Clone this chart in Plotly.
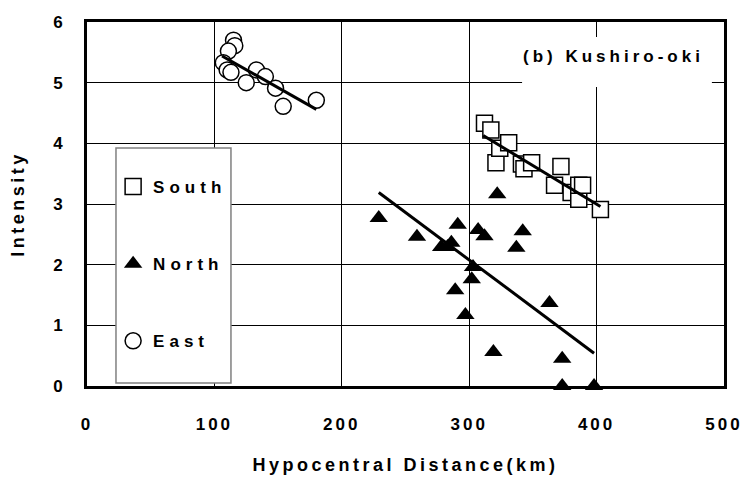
import plotly.graph_objects as go

# ---- data ----
east_x = [115, 116, 111, 107, 110, 113, 133, 140, 125, 148, 154, 180]
east_y = [5.70, 5.61, 5.52, 5.33, 5.21, 5.17, 5.21, 5.10, 5.00, 4.91, 4.61, 4.71]

south_x = [312, 317, 321, 324, 331, 341, 343, 349, 372, 367, 380, 386, 386, 389, 403]
south_y = [4.33, 4.22, 3.68, 3.92, 4.01, 3.66, 3.58, 3.68, 3.62, 3.31, 3.19, 3.08, 3.31, 3.31, 2.91]

north_x = [229, 259, 278, 283, 286, 291, 307, 312, 322, 342, 337, 303, 302, 289, 297, 363, 319, 373, 373, 398]
north_y = [2.77, 2.46, 2.29, 2.29, 2.36, 2.66, 2.57, 2.47, 3.16, 2.55, 2.28, 1.96, 1.76, 1.58, 1.17, 1.37, 0.56, 0.45, 0.0, 0.0]

# regression lines (end points)
east_fit_x = [106, 180]
east_fit_y = [5.44, 4.56]
south_fit_x = [311, 403]
south_fit_y = [4.13, 2.96]
north_fit_x = [229, 398]
north_fit_y = [3.19, 0.54]

x_ticks = [0, 100, 200, 300, 400, 500]
y_ticks = [0, 1, 2, 3, 4, 5, 6]

FONT = "Liberation Sans, Arial, sans-serif"


def spaced(t, px):
    return f'<span style="letter-spacing:{px}px">{t}</span>'


fig = go.Figure()

fig.add_trace(go.Scatter(
    x=south_x, y=south_y, mode="markers", name=spaced("South", 5),
    legendgroup="s",
    marker=dict(symbol="square", size=16, color="white",
                line=dict(color="black", width=1.5)),
    cliponaxis=False))
fig.add_trace(go.Scatter(
    x=north_x, y=north_y, mode="markers", name=spaced("North", 5),
    legendgroup="n",
    marker=dict(symbol="triangle-up", size=16, color="black",
                line=dict(color="black", width=0)),
    cliponaxis=False))
fig.add_trace(go.Scatter(
    x=east_x, y=east_y, mode="markers", name=spaced("East", 5),
    legendgroup="e",
    marker=dict(symbol="circle", size=16, color="white",
                line=dict(color="black", width=1.5)),
    cliponaxis=False))

for fx, fy in [(east_fit_x, east_fit_y), (south_fit_x, south_fit_y), (north_fit_x, north_fit_y)]:
    fig.add_trace(go.Scatter(x=fx, y=fy, mode="lines", showlegend=False,
                             line=dict(color="black", width=3), hoverinfo="skip"))

axis_common = dict(
    showgrid=True, gridcolor="black", gridwidth=1,
    showline=True, linecolor="black", linewidth=3, mirror=True,
    zeroline=False, ticks="outside", tickcolor="rgba(0,0,0,0)",
    automargin=False,
    tickfont=dict(family=FONT, size=17, color="black", weight="bold"),
)

fig.update_layout(
    width=747, height=480,
    margin=dict(l=87, r=23, t=22, b=94),
    paper_bgcolor="white", plot_bgcolor="white",
    font=dict(family=FONT, color="black"),
    xaxis=dict(range=[0, 500], tickvals=x_ticks,
               ticktext=[spaced(str(v), 3) for v in x_ticks],
               ticklen=21,
               title=dict(text=spaced("Hypocentral Distance(km)", 3.5),
                          font=dict(family=FONT, size=18, weight="bold"),
                          standoff=25),
               **axis_common),
    yaxis=dict(range=[0, 6], tickvals=y_ticks,
               ticktext=[str(v) for v in y_ticks],
               ticklen=18,
               title=dict(text=spaced("Intensity", 3.5),
                          font=dict(family=FONT, size=18, weight="bold"),
                          standoff=24),
               **axis_common),
    legend=dict(x=0.041, xanchor="left", y=0.335, yanchor="middle",
                bgcolor="rgba(0,0,0,0)", borderwidth=0,
                traceorder="grouped", tracegroupgap=52,
                font=dict(family=FONT, size=17, weight="bold", color="black")),
    showlegend=True,
    shapes=[
        dict(type="rect", xref="paper", yref="paper",
             x0=0.0455, x1=0.226, y0=0.008, y1=0.654,
             fillcolor="white", line=dict(color="#808080", width=1.5),
             layer="above"),
        dict(type="rect", xref="paper", yref="paper",
             x0=0.683, x1=0.981, y0=0.8214, y1=0.9588,
             fillcolor="white", line=dict(width=0),
             layer="above"),
    ],
    annotations=[
        dict(text=spaced("(b) Kushiro-oki", 4), xref="paper", yref="paper",
             x=0.827, y=0.904, xanchor="center", yanchor="middle",
             showarrow=False,
             font=dict(family=FONT, size=17, weight="bold", color="black")),
    ],
)

fig.write_html("out.html")
